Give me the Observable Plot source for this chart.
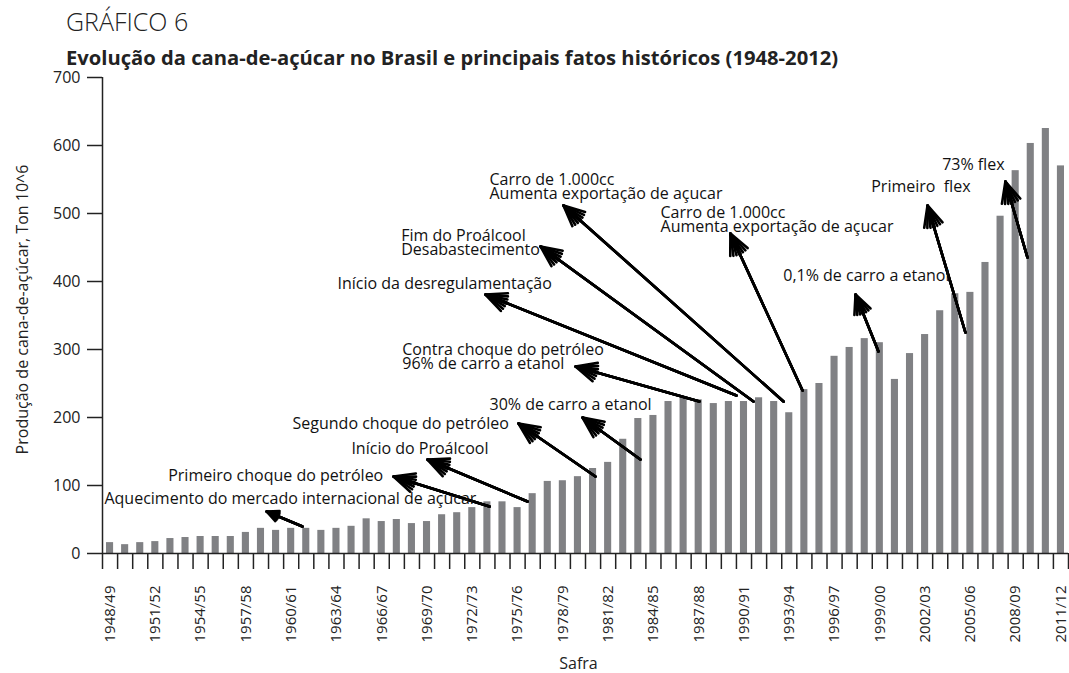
<!DOCTYPE html>
<html><head><meta charset="utf-8">
<script src="https://cdn.jsdelivr.net/npm/d3@7"></script>
<script src="https://cdn.jsdelivr.net/npm/@observablehq/plot@0.6"></script>
<style>
body{margin:0;background:#fff;font-family:"Open Sans",sans-serif;color:#222;}
#wrap{position:relative;width:1069px;height:673px;overflow:hidden;background:#fff;}
#t1{position:absolute;left:66px;top:9px;font-size:25px;line-height:25px;font-weight:300;white-space:nowrap;z-index:2;}
#t2{position:absolute;left:66px;top:47px;font-size:20.2px;line-height:20px;font-weight:700;white-space:nowrap;z-index:2;}
#chart{position:absolute;left:0;top:60px;z-index:1;}
</style></head><body>
<div id="wrap">
<div id="t1">GRÁFICO 6</div>
<div id="t2">Evolução da cana-de-açúcar no Brasil e principais fatos históricos (1948-2012)</div>
<div id="chart"></div>
</div>
<script>
// Safras 1948/49 ... 2011/12
const seasons = d3.range(1948, 2012).map(y => `${y}/${String((y + 1) % 100).padStart(2, "0")}`);
// Produção de cana-de-açúcar (milhões de toneladas)
const production = [
  16, 13, 16, 17.5, 22, 23.5, 25, 25, 25, 31,
  37, 34, 37, 37, 34, 37, 40, 51, 47, 50,
  44, 47, 57, 60, 67.5, 76, 76, 67.5, 88, 106,
  107, 113, 125, 134, 168, 198.5, 203, 223.5, 228, 226,
  220.5, 223.5, 223.5, 229, 223.5, 207, 241, 250, 290, 303,
  316, 310, 256, 294, 322, 357, 382, 384, 428, 496,
  563, 603, 625, 570
];
const labelEvery = 3;
const yTicks = [0, 100, 200, 300, 400, 500, 600, 700];
const yLabel = "Produção de cana-de-açúcar, Ton 10^6";
const xLabel = "Safra";

// Anotações (posição em unidades do gráfico: índice da safra, valor)
const annoText = [
  "Aquecimento do mercado internacional de açucar",
  "Primeiro choque do petróleo",
  "Início do Proálcool",
  "Segundo choque do petróleo",
  "30% de carro a etanol",
  "Contra choque do petróleo\n96% de carro a etanol",
  "Início da desregulamentação",
  "Fim do Proálcool\nDesabastecimento",
  "Carro de 1.000cc\nAumenta exportação de açucar",
  "Carro de 1.000cc\nAumenta exportação de açucar",
  "0,1% de carro a etanol",
  "Primeiro\u00a0 flex",
  "73% flex"
];
const annoX = [0.13, 18.6, 25.57, 12.59, 25.64, 19.86, 15.57, 19.79, 25.64, 36.97, 45.1, 50.93, 55.63];
const annoY = [79.4, 113.2, 152.9, 189.7, 217.6, 288.7, 395.6, 455.9, 538.2, 490, 407.4, 538.2, 570.6];
const annoAnchor = ["start", "end", "end", "start", "start", "start", "start", "start", "start", "start", "start", "start", "start"];

// Setas: cauda (x1,y1) -> ponta (x2,y2)
const arrowX1 = [13.25, 25.64, 28.16, 32.66, 35.64, 39.55, 42.0, 43.13, 45.12, 46.38, 51.41, 57.17, 61.28];
const arrowY1 = [39.7, 69.1, 76.5, 113.2, 138.2, 223.5, 232.4, 223.5, 223.5, 239.7, 297, 325, 435.3];
const arrowX2 = [10.87, 19.28, 21.53, 27.56, 31.8, 31.34, 25.37, 29.02, 30.54, 41.6, 49.89, 54.66, 59.82];
const arrowY2 = [61.8, 113.2, 138.2, 191.2, 200, 275, 380.9, 451.5, 511.8, 470.6, 380.9, 511.8, 547];

const bars = production.map((v, i) => ({i, season: seasons[i], v}));
const labelIdx = d3.range(0, seasons.length, labelEvery);
const annos = annoText.map((t, k) => ({t, x: annoX[k], y: annoY[k], a: annoAnchor[k]}));
const arrows = arrowX1.map((x1, k) => ({x1, y1: arrowY1[k], x2: arrowX2[k], y2: arrowY2[k]}));

const font = 16;
const tickFont = 15;
const arrowHeads = [50, 34, 18, 4].map(a => Plot.arrow(arrows, {
  x1: "x1", y1: "y1", x2: "x2", y2: "y2",
  stroke: "#000", strokeWidth: 2.6, headLength: 13, headAngle: a
}));

const chart = Plot.plot({
  width: 1069,
  height: 613,
  marginTop: 17,
  marginBottom: 120,
  marginLeft: 102,
  marginRight: 1,
  style: {fontFamily: "'Open Sans', sans-serif", fontSize: font + "px", color: "#222", background: "transparent", overflow: "visible"},
  x: {type: "linear", domain: [0, seasons.length], axis: null},
  y: {domain: [0, 700], axis: null},
  marks: [
    Plot.rectY(bars, {x1: "i", x2: d => d.i + 1, y: "v", insetLeft: 4, insetRight: 4, fill: "#808184"}),
    Plot.axisY({ticks: yTicks, tickSize: 15, tickPadding: 7, label: null, strokeWidth: 1.5, fontSize: font}),
    Plot.axisX({ticks: d3.range(0, seasons.length + 1), tickSize: 16, tickFormat: () => "", label: null, strokeWidth: 1.5}),
    Plot.ruleY([0], {stroke: "#222", strokeWidth: 1.5}),
    Plot.ruleX([0], {y1: 0, y2: 700, stroke: "#222", strokeWidth: 1.5}),
    Plot.text(labelIdx, {x: i => i + 0.5, text: i => seasons[i], frameAnchor: "bottom", dy: 32,
      rotate: -90, textAnchor: "end", lineAnchor: "middle", fontSize: tickFont, fill: "#222"}),
    Plot.text([yLabel], {frameAnchor: "left", dx: -80, dy: -6, rotate: -90, textAnchor: "middle", lineAnchor: "middle", fontSize: font, fill: "#222"}),
    Plot.text([xLabel], {frameAnchor: "bottom", dx: -7, dy: 110, textAnchor: "middle", lineAnchor: "middle", fontSize: font, fill: "#222"}),
    ...arrowHeads,
    Plot.text(annos.filter(d => d.a === "start"), {x: "x", y: "y", text: "t", textAnchor: "start", lineAnchor: "middle", lineHeight: 0.875, fontSize: font, fill: "#111"}),
    Plot.text(annos.filter(d => d.a === "end"), {x: "x", y: "y", text: "t", textAnchor: "end", lineAnchor: "middle", lineHeight: 0.875, fontSize: font, fill: "#111"})
  ]
});
document.getElementById("chart").appendChild(chart);
</script>
</body></html>
